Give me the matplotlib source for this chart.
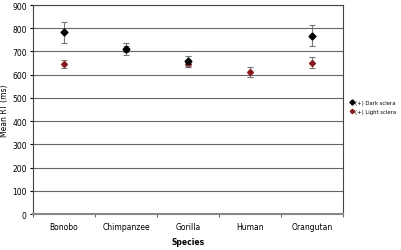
import matplotlib.pyplot as plt
import numpy as np

species = ['Bonobo', 'Chimpanzee', 'Gorilla', 'Human', 'Orangutan']
dark_mean = [782, 711, 659, None, 768]
dark_err = [44, 25, 20, None, 45]
light_mean = [645, 711, 645, 611, 651]
light_err = [18, 12, 10, 21, 24]

fig = plt.figure(figsize=(4.01, 2.51), dpi=100)
ax = fig.add_axes([0.0823, 0.1434, 0.7727, 0.8326])

x = np.arange(len(species))

lx = [i for i, v in zip(x, light_mean) if v is not None]
ly = [v for v in light_mean if v is not None]
le = [e for e in light_err if e is not None]
ax.errorbar(lx, ly, yerr=le, fmt='none', ecolor='#777777', elinewidth=0.8,
            capsize=2, capthick=0.8, zorder=3)
ax.plot(lx, ly, linestyle='none', marker='D', markersize=3, color='#8b1a1a',
        label='(+) Light sclera', zorder=4)

dx = [i for i, v in zip(x, dark_mean) if v is not None]
dy = [v for v in dark_mean if v is not None]
de = [e for e in dark_err if e is not None]
ax.errorbar(dx, dy, yerr=de, fmt='none', ecolor='#777777', elinewidth=0.8,
            capsize=2, capthick=0.8, zorder=5)
ax.plot(dx, dy, linestyle='none', marker='D', markersize=3.5, color='black',
        label='(+) Dark sclera', zorder=6)

ax.set_xlim(-0.5, len(species) - 0.5)
ax.set_ylim(0, 900)
ax.set_yticks(np.arange(0, 901, 100))
ax.set_xticks(x)
ax.set_xticklabels(species, fontsize=5.5)
ax.set_xticks(np.arange(-0.5, len(species), 1), minor=True)
ax.tick_params(axis='x', which='major', length=0, pad=6)
ax.tick_params(axis='x', which='minor', length=2.5, direction='out', color='#444444')
ax.tick_params(axis='y', labelsize=5.5, length=2.5, direction='out', pad=2)
ax.yaxis.grid(True, color='#666666', linewidth=0.8)
ax.set_axisbelow(True)

for s in ['left', 'right', 'top']:
    ax.spines[s].set_color('#444444')
    ax.spines[s].set_linewidth(0.8)
ax.spines['bottom'].set_color('#888888')
ax.spines['bottom'].set_linewidth(1.5)

ax.set_ylabel('Mean RT (ms)', fontsize=5.5, labelpad=2)
ax.set_xlabel('Species', fontsize=5.5, fontweight='bold', labelpad=4)

handles, labels = ax.get_legend_handles_labels()
fig.legend(handles[::-1], labels[::-1], loc='center left', bbox_to_anchor=(0.874, 0.57),
           frameon=False, prop={'size': 3.8}, handlelength=0.4, handletextpad=0.5,
           markerscale=0.75, labelspacing=0.8, borderaxespad=0, borderpad=0)

fig.savefig('out.png', dpi=100)
